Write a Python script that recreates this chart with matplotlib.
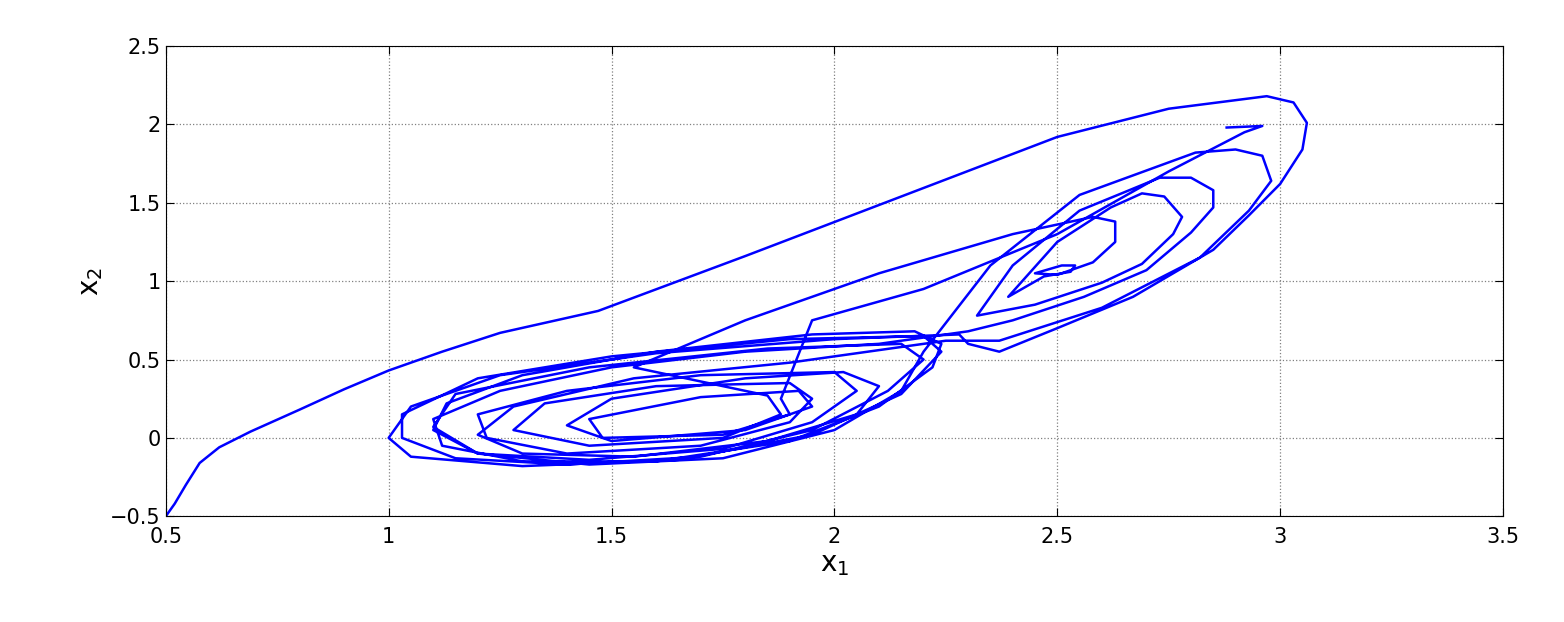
import matplotlib
matplotlib.use("Agg")
import matplotlib.pyplot as plt

# trajectory waypoints (x1, x2)
x1 = [0.50,0.52,0.545,0.576,0.62,0.69,0.80,0.90,1.00,1.12,1.25,1.47,1.80,2.15,2.50,2.75,2.97,3.03,3.06,3.05,3.00,2.93,2.85,2.67,2.50,2.37,2.30,2.28,
      2.00,1.60,1.25,1.05,1.00,1.05,1.30,1.65,1.95,2.15,2.24,2.20,
      1.90,1.50,1.20,1.03,1.03,1.15,1.40,1.70,1.95,2.12,2.20,2.15,
      1.85,1.45,1.15,1.10,1.20,1.45,1.75,1.95,2.05,2.00,
      1.70,1.40,1.20,1.22,1.40,1.70,1.90,1.95,1.90,
      1.60,1.35,1.28,1.45,1.75,1.88,1.85,1.75,
      1.55,1.80,2.10,2.40,2.58,2.63,2.63,2.58,2.50,2.45,2.51,2.54,2.53,2.47,2.39,
      2.50,2.62,2.69,2.74,2.78,2.76,2.69,2.60,2.45,2.32,
      2.40,2.55,2.73,2.80,2.85,2.85,2.80,2.70,2.56,2.40,2.30,
      2.10,1.80,1.50,1.25,1.10,1.12,1.30,1.60,1.90,2.10,2.22,2.24,2.18,
      1.95,1.60,1.30,1.13,1.10,1.20,1.45,1.75,2.00,2.15,2.20,
      2.35,2.55,2.81,2.90,2.96,2.98,2.93,2.82,2.60,2.37,2.25,
      1.90,1.55,1.28,1.20,1.30,1.55,1.85,2.05,2.10,2.02,
      1.80,1.50,1.40,1.50,1.80,1.95,1.92,
      1.70,1.45,1.48,1.75,1.90,1.88,
      1.95,2.20,2.50,2.75,2.92,2.96,2.88]
x2 = [-0.50,-0.42,-0.30,-0.16,-0.06,0.04,0.18,0.31,0.43,0.55,0.67,0.81,1.16,1.54,1.92,2.10,2.18,2.14,2.01,1.84,1.62,1.42,1.20,0.90,0.70,0.55,0.60,0.66,
      0.63,0.54,0.40,0.20,0.00,-0.12,-0.18,-0.14,0.02,0.28,0.55,0.65,
      0.63,0.52,0.38,0.15,0.00,-0.13,-0.17,-0.12,0.05,0.30,0.50,0.60,
      0.57,0.45,0.28,0.07,-0.10,-0.14,-0.07,0.10,0.30,0.42,
      0.40,0.30,0.15,0.00,-0.10,-0.05,0.10,0.25,0.35,
      0.33,0.22,0.05,-0.05,0.00,0.15,0.27,0.33,
      0.45,0.75,1.05,1.30,1.41,1.38,1.25,1.12,1.04,1.05,1.10,1.10,1.06,1.03,0.90,
      1.25,1.47,1.56,1.54,1.41,1.30,1.11,0.99,0.85,0.78,
      1.10,1.45,1.66,1.66,1.58,1.47,1.31,1.07,0.90,0.75,0.68,
      0.60,0.55,0.45,0.30,0.12,-0.05,-0.15,-0.15,-0.02,0.20,0.45,0.60,0.68,
      0.66,0.55,0.40,0.22,0.05,-0.10,-0.17,-0.13,0.05,0.30,0.55,
      1.10,1.55,1.82,1.84,1.80,1.64,1.45,1.15,0.83,0.62,0.62,
      0.48,0.38,0.20,0.02,-0.10,-0.12,-0.02,0.15,0.33,0.42,
      0.38,0.25,0.08,-0.02,0.05,0.20,0.30,
      0.26,0.12,0.00,0.02,0.15,0.25,
      0.75,0.95,1.30,1.70,1.95,1.99,1.98]

fig = plt.figure(figsize=(15.64, 6.22), dpi=100)
ax = fig.add_axes([0.106, 0.17, 0.855, 0.756])
ax.plot(x1, x2, color='#0000ff', lw=1.8)
ax.set_xlim(0.5, 3.5)
ax.set_ylim(-0.5, 2.5)
ax.set_xticks([0.5,1,1.5,2,2.5,3,3.5])
ax.set_xticklabels(['0.5','1','1.5','2','2.5','3','3.5'])
ax.set_yticks([-0.5,0,0.5,1,1.5,2,2.5])
ax.set_yticklabels(['\u22120.5','0','0.5','1','1.5','2','2.5'])
ax.grid(True, linestyle=':', color='#808080', lw=0.9)
ax.tick_params(labelsize=15, direction='in', length=6, top=True, right=True)
ax.tick_params(axis='x', pad=8)
ax.set_xlabel('x$_1$', fontsize=20, labelpad=2)
ax.set_ylabel('x$_2$', fontsize=20)
fig.savefig('out.png')
